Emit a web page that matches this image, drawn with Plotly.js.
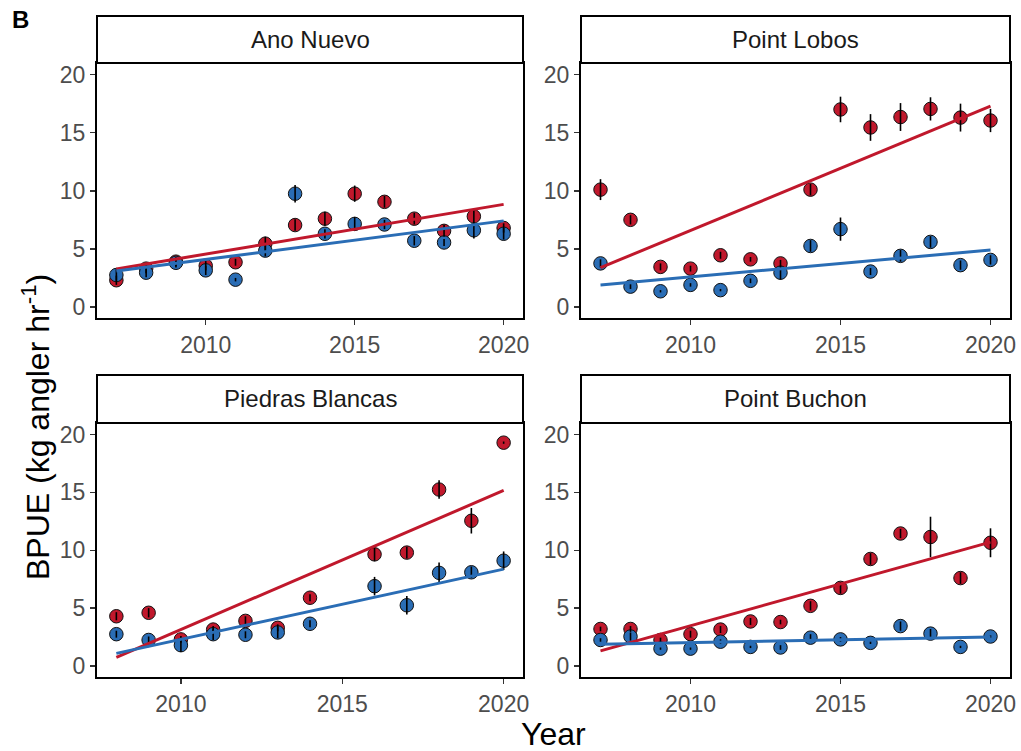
<!DOCTYPE html>
<html><head><meta charset="utf-8">
<script src="https://cdn.plot.ly/plotly-3.0.1.min.js"></script>
<style>html,body{margin:0;padding:0;background:#fff}</style>
</head><body><div id="chart" style="width:1021px;height:751px"></div>
<script>
// ---- data ----
const siteNames = ["Ano Nuevo", "Point Lobos", "Piedras Blancas", "Point Buchon"];

const yearsAnoNuevo = [2007,2008,2009,2010,2011,2012,2013,2014,2015,2016,2017,2018,2019,2020];
const redAnoNuevo = [2.3,3.3,3.9,3.55,3.85,5.45,7.05,7.6,9.75,9.05,7.6,6.55,7.8,6.8];
const redErrAnoNuevo = [0.4,0.4,0.4,0.4,0.3,0.6,0.5,0.6,0.7,0.5,0.5,0.5,0.6,0.4];
const blueAnoNuevo = [2.75,2.95,3.8,3.15,2.35,4.85,9.75,6.3,7.15,7.1,5.7,5.55,6.6,6.3];
const blueErrAnoNuevo = [0.5,0.4,0.4,0.4,0.15,0.5,0.75,0.4,0.6,0.4,0.4,0.3,0.7,0.5];
const redTrendAnoNuevo = [3.27, 8.83];
const blueTrendAnoNuevo = [3.1, 7.41];

const yearsPointLobos = [2007,2008,2009,2010,2011,2012,2013,2014,2015,2016,2017,2018,2019,2020];
const redPointLobos = [10.1,7.5,3.45,3.3,4.45,4.1,3.75,10.1,17.0,15.45,16.35,17.05,16.3,16.05];
const redErrPointLobos = [0.9,0.4,0.3,0.25,0.3,0.2,0.3,0.5,1.1,1.15,1.2,1.0,1.2,1.0];
const bluePointLobos = [3.75,1.75,1.35,1.9,1.45,2.25,2.95,5.25,6.7,3.05,4.4,5.6,3.6,4.05];
const blueErrPointLobos = [0.35,0.2,0.1,0.15,0.1,0.2,0.6,0.5,1.0,0.3,0.5,0.5,0.4,0.4];
const redTrendPointLobos = [3.38, 17.28];
const blueTrendPointLobos = [1.89, 4.9];

const yearsPiedras = [2008,2009,2010,2011,2012,2013,2014,2016,2017,2018,2019,2020];
const redPiedras = [4.3,4.6,2.3,3.15,3.9,3.3,5.9,9.65,9.8,15.25,12.55,19.3];
const redErrPiedras = [0.35,0.4,0.3,0.3,0.4,0.3,0.3,0.6,0.5,0.8,1.1,0.1];
const bluePiedras = [2.75,2.25,1.8,2.75,2.7,2.9,3.65,6.9,5.25,8.05,8.1,9.1];
const blueErrPiedras = [0.3,0.3,0.6,0.5,0.3,0.5,0.3,0.8,0.8,0.9,0.5,0.8];
const redTrendPiedras = [0.74, 15.17];
const blueTrendPiedras = [1.09, 8.37];

const yearsBuchon = [2007,2008,2009,2010,2011,2012,2013,2014,2015,2016,2017,2018,2019,2020];
const redBuchon = [3.2,3.2,2.25,2.75,3.15,3.85,3.8,5.2,6.75,9.25,11.45,11.15,7.6,10.65];
const redErrBuchon = [0.2,0.25,0.2,0.3,0.3,0.3,0.2,0.4,0.5,0.5,0.4,1.75,0.5,1.25];
const blueBuchon = [2.25,2.55,1.5,1.5,2.1,1.65,1.6,2.45,2.3,2.0,3.45,2.8,1.65,2.55];
const blueErrBuchon = [0.15,0.35,0.1,0.1,0.2,0.1,0.2,0.3,0.2,0.1,0.4,0.4,0.1,0.1];
const redTrendBuchon = [1.31, 10.71];
const blueTrendBuchon = [1.89, 2.51];

const xTickVals = [2010, 2015, 2020];
const yTickVals = [0, 5, 10, 15, 20];
const yAxisTitle = "BPUE (kg angler hr<sup>-1</sup>)";
const xAxisTitle = "Year";
const panelTag = "B";

// ---- styling / layout ----
const RED = "#C0182C", BLUE = "#2A6DB5";
const W = 1021, H = 751;
const px = v => v / W, py = v => 1 - v / H;
const FONT = "Liberation Sans, Arial, Helvetica, sans-serif";

const panels = [
  {years: yearsAnoNuevo, red: redAnoNuevo, redErr: redErrAnoNuevo, blue: blueAnoNuevo, blueErr: blueErrAnoNuevo, rt: redTrendAnoNuevo, bt: blueTrendAnoNuevo, col: [97, 523], row: [63, 318], strip: [16, 63]},
  {years: yearsPointLobos, red: redPointLobos, redErr: redErrPointLobos, blue: bluePointLobos, blueErr: blueErrPointLobos, rt: redTrendPointLobos, bt: blueTrendPointLobos, col: [581, 1010], row: [63, 318], strip: [16, 63]},
  {years: yearsPiedras, red: redPiedras, redErr: redErrPiedras, blue: bluePiedras, blueErr: blueErrPiedras, rt: redTrendPiedras, bt: blueTrendPiedras, col: [97, 523], row: [423, 677], strip: [375, 423]},
  {years: yearsBuchon, red: redBuchon, redErr: redErrBuchon, blue: blueBuchon, blueErr: blueErrBuchon, rt: redTrendBuchon, bt: blueTrendBuchon, col: [581, 1010], row: [423, 677], strip: [375, 423]}
];

const traces = [];
const layout = {
  width: W, height: H, margin: {l: 0, r: 0, t: 0, b: 0},
  paper_bgcolor: "#fff", plot_bgcolor: "#fff",
  showlegend: false, hovermode: false,
  font: {family: FONT},
  shapes: [], annotations: []
};

panels.forEach((p, i) => {
  const n = i + 1;
  const xa = "x" + (n === 1 ? "" : n), ya = "y" + (n === 1 ? "" : n);
  const xk = "xaxis" + (n === 1 ? "" : n), yk = "yaxis" + (n === 1 ? "" : n);
  const x0 = p.years[0], x1 = p.years[p.years.length - 1];
  const pad = (x1 - x0) * 0.05;
  const common = {
    showline: true, linecolor: "#000", linewidth: 2, mirror: true,
    ticks: "outside", ticklen: 5, tickwidth: 1.5, tickcolor: "#333",
    showgrid: false, zeroline: false, fixedrange: true,
    tickfont: {size: 23, color: "#4D4D4D", family: FONT}
  };
  layout[xk] = Object.assign({}, common, {
    domain: [px(p.col[0]), px(p.col[1])], anchor: ya,
    range: [x0 - pad, x1 + pad], tickvals: xTickVals
  });
  layout[yk] = Object.assign({}, common, {
    domain: [py(p.row[1]), py(p.row[0])], anchor: xa,
    range: [-0.95, 21.0], tickvals: yTickVals
  });
  traces.push({name: "red " + siteNames[i], x: p.years, y: p.red, xaxis: xa, yaxis: ya, type: "scatter", mode: "markers",
    marker: {size: 13.5, color: RED, line: {color: "#111", width: 1}}});
  traces.push({name: "blue " + siteNames[i], x: p.years, y: p.blue, xaxis: xa, yaxis: ya, type: "scatter", mode: "markers",
    marker: {size: 13.5, color: BLUE, line: {color: "#111", width: 1}}});
  [[p.red, p.redErr], [p.blue, p.blueErr]].forEach(([v, e]) => {
    traces.push({x: p.years, y: v, xaxis: xa, yaxis: ya, type: "scatter", mode: "markers",
      marker: {size: 1, opacity: 0},
      error_y: {type: "data", array: e, visible: true, color: "#000", thickness: 1.6, width: 0}});
  });
  traces.push({x: [x0, x1], y: p.rt, xaxis: xa, yaxis: ya, type: "scatter", mode: "lines",
    line: {color: RED, width: 3}});
  traces.push({x: [x0, x1], y: p.bt, xaxis: xa, yaxis: ya, type: "scatter", mode: "lines",
    line: {color: BLUE, width: 3}});
  layout.shapes.push({type: "rect", xref: "paper", yref: "paper",
    x0: px(p.col[0]), x1: px(p.col[1]), y0: py(p.strip[1]), y1: py(p.strip[0]),
    fillcolor: "#fff", line: {color: "#000", width: 2}});
  layout.annotations.push({xref: "paper", yref: "paper", x: px((p.col[0] + p.col[1]) / 2),
    y: py((p.strip[0] + p.strip[1]) / 2), text: siteNames[i], showarrow: false,
    xanchor: "center", yanchor: "middle", font: {size: 24, color: "#1A1A1A", family: FONT}});
});

layout.annotations.push({xref: "paper", yref: "paper", x: px(36), y: py(427), text: yAxisTitle,
  textangle: -90, showarrow: false, xanchor: "center", yanchor: "middle",
  font: {size: 32, color: "#000", family: FONT}});
layout.annotations.push({xref: "paper", yref: "paper", x: px(553), y: py(734), text: xAxisTitle,
  showarrow: false, xanchor: "center", yanchor: "middle",
  font: {size: 32, color: "#000", family: FONT}});
layout.annotations.push({xref: "paper", yref: "paper", x: px(10), y: py(20), text: "<b>" + panelTag + "</b>",
  showarrow: false, xanchor: "left", yanchor: "middle",
  font: {size: 24, color: "#000", family: FONT}});

Plotly.newPlot("chart", traces, layout, {displayModeBar: false, staticPlot: true});
</script></body></html>
